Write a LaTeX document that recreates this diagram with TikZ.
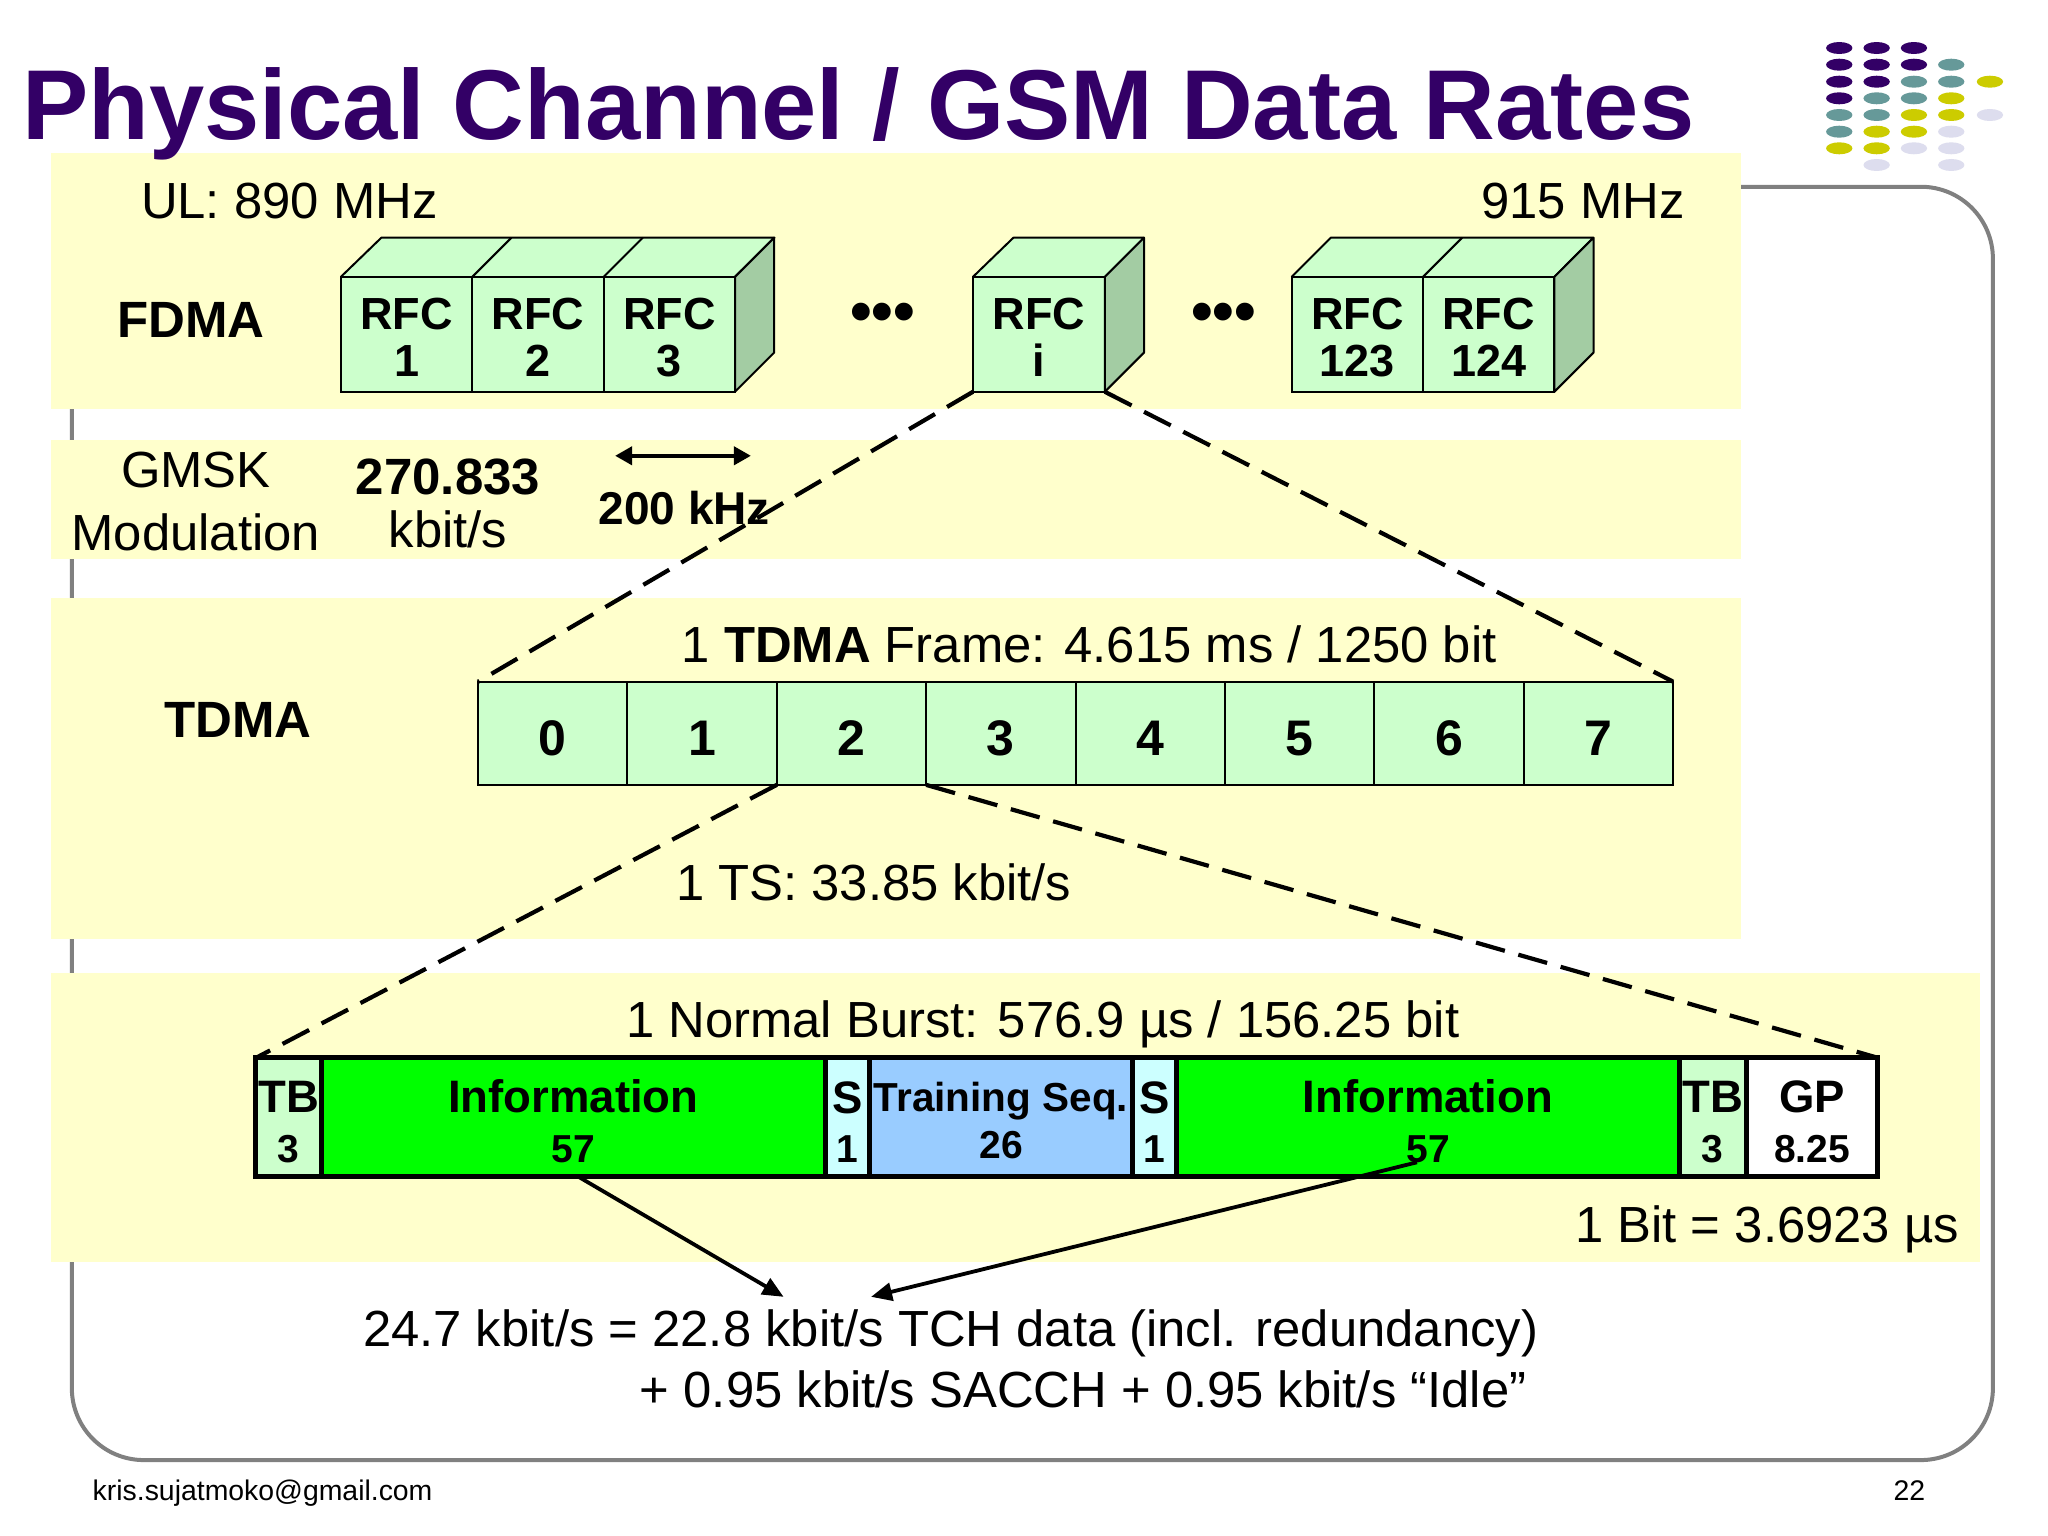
\documentclass[tikz,border=0pt]{standalone}
\usepackage{fontspec}
\setmainfont{Liberation Sans}
\usetikzlibrary{arrows.meta}
\newcommand{\fsz}[1]{\fontsize{#1}{#1}\selectfont}
\definecolor{bandyellow}{HTML}{FFFFCC}
\definecolor{titlepurple}{HTML}{330066}
\definecolor{dotteal}{HTML}{669999}
\definecolor{dotyellow}{HTML}{CCCC00}
\definecolor{dotlav}{HTML}{DDDDEE}
\definecolor{cellgreen}{HTML}{CCFFCC}
\definecolor{cubeside}{HTML}{A3CCA3}
\definecolor{infogreen}{HTML}{00FF00}
\definecolor{scyan}{HTML}{CCFFFF}
\definecolor{trainblue}{HTML}{99CCFF}
\tikzset{
  x=1.306pt,y=-1.306pt,
  band/.style={fill=bandyellow,draw=none},
  body/.style={inner sep=0pt,outer sep=0pt,font=\fsz{50.8}},
  boldbody/.style={inner sep=0pt,outer sep=0pt,font=\fsz{51}\bfseries},
  foot/.style={inner sep=0pt,outer sep=0pt,font=\fsz{28.4}},
  rfcbox/.style={draw=black,line width=2pt,fill=cellgreen,inner sep=0pt,outer sep=0pt,
    minimum width=100.6*1.306pt,minimum height=88*1.306pt,align=center,anchor=south west,
    font=\fontsize{45}{47}\selectfont\bfseries},
  cubeface/.style={draw=black,line width=2pt,line join=round},
  tdmacell/.style={draw=black,line width=2pt,fill=cellgreen,inner sep=0pt,outer sep=0pt,
    minimum width=114.4*1.306pt,minimum height=79*1.306pt,anchor=west,font=\fsz{50}\bfseries},
  burstcell/.style={draw=black,line width=5pt,inner sep=0pt,outer sep=0pt,
    minimum height=91*1.306pt,anchor=west,align=center,font=\fontsize{39}{49.5}\selectfont\bfseries},
  zoomline/.style={draw=black,line width=4.2pt,dash pattern=on 30pt off 14pt},
  feed/.style={draw=black,line width=3.8pt,-{Triangle[length=21pt,width=18pt]}},
}
\newcommand{\bcell}[2]{{\fontsize{45.5}{49.5}\selectfont\rule{0pt}{41pt}#1}\\#2}
\newcommand{\raisetext}{\rule[-4pt]{0pt}{4pt}}
\newcommand{\dropdigit}{\rule{0pt}{44pt}}
\begin{document}
\begin{tikzpicture}
\useasboundingbox (0,0) rectangle (1568.2,1176.1);
\fill[white] (0,0) rectangle (1568.2,1176.1);
% rounded frame
\draw[draw=black!50,line width=4pt,rounded corners=72pt] (55,143) rectangle (1526,1118);
% bands
\fill[band] (39,117) rectangle (1333,313);
\fill[band] (39,337) rectangle (1333,428);
\fill[band] (39,458) rectangle (1333,719);
\fill[band] (39,745) rectangle (1516,966);
% title
\node[inner sep=0pt,anchor=base west,text=titlepurple,font=\fsz{99.3}\bfseries] (title) at (17,107) {Physical Channel / GSM Data Rates};
% logo dots
\begin{scope}[x=1pt,y=-1pt]
\foreach \cx/\cy/\col in {
 1839.3/48/titlepurple,1876.7/48/titlepurple,1914/48/titlepurple,
 1839.3/64.7/titlepurple,1876.7/64.7/titlepurple,1914/64.7/titlepurple,1951.3/64.7/dotteal,
 1839.3/81.7/titlepurple,1876.7/81.7/titlepurple,1914/81.7/dotteal,1951.3/81.7/dotteal,1990/81.7/dotyellow,
 1839.3/98.3/titlepurple,1876.7/98.3/dotteal,1914/98.3/dotteal,1951.3/98.3/dotyellow,
 1839.3/115/dotteal,1876.7/115/dotteal,1914/115/dotyellow,1951.3/115/dotyellow,1990/115/dotlav,
 1839.3/131.7/dotteal,1876.7/131.7/dotyellow,1914/131.7/dotyellow,1951.3/131.7/dotlav,
 1839.3/148.3/dotyellow,1876.7/148.3/dotyellow,1914/148.3/dotlav,1951.3/148.3/dotlav,
 1876.7/165/dotlav,1951.3/165/dotlav}
 {\fill[\col] (\cx,\cy) ellipse [x radius=13.2pt,y radius=6pt];}
\end{scope}
% FDMA band texts
\node[body,anchor=west] (ul) at (108,154) {UL: 890 MHz};
\node[body,anchor=east] (ulend) at (1290,154) {915 MHz};
\node[boldbody] (fdma) at (146,245) {FDMA};
% RFC cubes
\fill[cellgreen] (292,182) -- (593,182) -- (563,212) -- (261,212) -- cycle;
\fill[cellgreen] (776,182) -- (876,182) -- (846,212) -- (745,212) -- cycle;
\fill[cellgreen] (1019,182) -- (1220,182) -- (1190,212) -- (989,212) -- cycle;
\node[rfcbox] (r1) at (261,300) {\rule{0pt}{42pt}RFC\\1\raisetext};
\node[rfcbox] (r2) at (r1.south east) {\rule{0pt}{42pt}RFC\\2\raisetext};
\node[rfcbox] (r3) at (r2.south east) {\rule{0pt}{42pt}RFC\\3\raisetext};
\node[rfcbox,minimum width=101*1.306pt] (ri) at (745,300) {\rule{0pt}{42pt}RFC\\i\raisetext};
\node[rfcbox] (r123) at (989,300) {\rule{0pt}{42pt}RFC\\123\raisetext};
\node[rfcbox] (r124) at (r123.south east) {\rule{0pt}{42pt}RFC\\124\raisetext};
\draw[cubeface] (r1.north west) -- ++(31,-30) -- ++(301,0) -- (r3.north east);
\draw[cubeface] (r1.north east) -- ++(30,-30);
\draw[cubeface] (r2.north east) -- ++(30,-30);
\draw[cubeface,fill=cubeside] (r3.north east) -- ++(30,-30) -- ++(0,88) -- (r3.south east) -- cycle;
\draw[cubeface] (ri.north west) -- ++(31,-30) -- ++(100,0) -- (ri.north east);
\draw[cubeface,fill=cubeside] (ri.north east) -- ++(30,-30) -- ++(0,88) -- (ri.south east) -- cycle;
\draw[cubeface] (r123.north west) -- ++(30,-30) -- ++(201,0) -- (r124.north east);
\draw[cubeface] (r123.north east) -- ++(30,-30);
\draw[cubeface,fill=cubeside] (r124.north east) -- ++(30,-30) -- ++(0,88) -- (r124.south east) -- cycle;
\node[inner sep=0pt,font=\fsz{62}\bfseries] (dots1) at (676,243) {•••};
\node[inner sep=0pt,font=\fsz{62}\bfseries] (dots2) at (937,243) {•••};
% modulation band
\node[body] (gmsk) at (150,360) {GMSK};
\node[body] (modul) at (150,408) {Modulation};
\node[boldbody] (rate) at (343,365.5) {270.833};
\node[body] (rateu) at (343,405) {kbit/s};
\coordinate (bwl) at (471,349);
\coordinate (bwr) at (575,349);
\draw[draw=black,line width=4pt,{Triangle[length=17pt,width=18pt]}-{Triangle[length=17pt,width=18pt]}] (bwl) -- (bwr);
\node[inner sep=0pt,font=\fsz{46}\bfseries] (bw) at (524,389) {200 kHz};
% TDMA
\node[boldbody] (tdma) at (182,551) {TDMA};
\node[body] (framet) at (834,493) {1 \textbf{TDMA} Frame: 4.615 ms / 1250 bit};
\node[tdmacell] (f0) at (366,561.5) {\dropdigit 0};
\node[tdmacell] (f1) at (f0.east) {\dropdigit 1};
\node[tdmacell] (f2) at (f1.east) {\dropdigit 2};
\node[tdmacell] (f3) at (f2.east) {\dropdigit 3};
\node[tdmacell] (f4) at (f3.east) {\dropdigit 4};
\node[tdmacell] (f5) at (f4.east) {\dropdigit 5};
\node[tdmacell] (f6) at (f5.east) {\dropdigit 6};
\node[tdmacell] (f7) at (f6.east) {\dropdigit 7};
\node[body] (ts) at (669,676) {1 TS: 33.85 kbit/s};
% burst
\node[body] (burstt) at (798.5,784) {1 Normal Burst: 576.9 µs / 156.25 bit};
\node[burstcell,fill=cellgreen,minimum width=50*1.306pt] (b1) at (196,855.5) {\bcell{TB}{3}};
\node[burstcell,fill=infogreen,minimum width=386*1.306pt] (info1) at (b1.east) {\bcell{Information}{57}};
\node[burstcell,fill=scyan,minimum width=34*1.306pt] (s1) at (info1.east) {\bcell{S}{1}};
\node[burstcell,fill=trainblue,minimum width=201*1.306pt] (train) at (s1.east) {{\fontsize{40.5}{49.5}\selectfont\rule{0pt}{36pt}Training Seq.}\\[-2.5pt]26};
\node[burstcell,fill=scyan,minimum width=34*1.306pt] (s2) at (train.east) {\bcell{S}{1}};
\node[burstcell,fill=infogreen,minimum width=385*1.306pt] (info2) at (s2.east) {\bcell{Information}{57}};
\node[burstcell,fill=cellgreen,minimum width=51*1.306pt] (b2) at (info2.east) {\bcell{TB}{3}};
\node[burstcell,fill=white,minimum width=101*1.306pt] (gp) at (b2.east) {\bcell{GP}{8.25}};
\node[body,anchor=east] (bit) at (1500,941) {1 Bit = 3.6923 µs};
% zoom lines
\draw[zoomline] (ri.south west) -- (f0.north west);
\draw[zoomline] (ri.south east) -- (f7.north east);
\draw[zoomline] (f2.south west) -- (b1.north west);
\draw[zoomline] (f2.south east) -- (gp.north east);
% bottom
\node[body,anchor=west] (tch1) at (278,1021) {24.7 kbit/s = 22.8 kbit/s TCH data (incl. redundancy)};
\node[body,anchor=west] (tch2) at (490,1064) {+ 0.95 kbit/s SACCH + 0.95 kbit/s “Idle”};
\coordinate (feedA) at (600,993);
\coordinate (feedB) at (667,993);
\coordinate (feedC) at (1085,890);
\draw[feed] ([xshift=5pt]info1.south) -- (feedA);
\draw[feed] (feedC) -- (feedB);
% footer
\node[foot,anchor=west] (mail) at (71,1143) {kris.sujatmoko@gmail.com};
\node[foot] (pg) at (1462,1141) {22};
\end{tikzpicture}
\end{document}
